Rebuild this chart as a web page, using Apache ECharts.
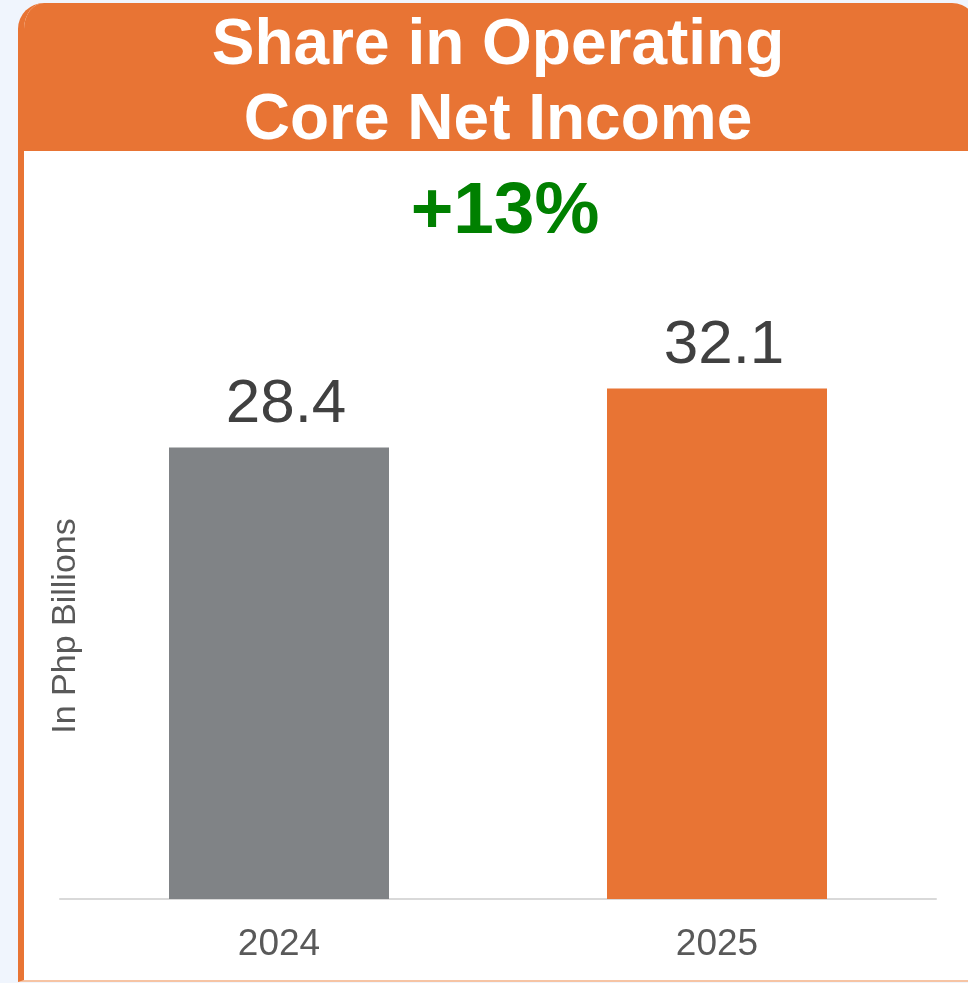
<!DOCTYPE html>
<html>
<head>
<meta charset="utf-8">
<script src="https://cdn.jsdelivr.net/npm/echarts@6/dist/echarts.min.js"></script>
<style>
  html, body { margin: 0; padding: 0; width: 968px; height: 983px; overflow: hidden; background: #f0f5fd; font-family: "Liberation Sans", Arial, sans-serif; }
  #card { position: absolute; left: 18px; top: 3px; width: 954px; height: 977px; background: #fff; border-left: 6px solid #e87434; border-bottom: 2px solid #f6c4a4; border-radius: 26px 26px 0 0; overflow: hidden; }
  #head { position: absolute; left: 0; top: 0; width: 100%; height: 148px; background: #e87434; }
  #chart { position: absolute; left: 0; top: 0; width: 968px; height: 983px; }
</style>
</head>
<body>
<div id="card"><div id="head"></div></div>
<div id="chart"></div>
<script>
const titleLines = ["Share in Operating", "Core Net Income"];
const growthText = "+13%";
const yAxisName = "In Php Billions";
const categories = ["2024", "2025"];
const values = [28.4, 32.1];
const barColors = ["#808386", "#e87434"];

const chart = echarts.init(document.getElementById('chart'), null, { renderer: 'canvas' });
chart.setOption({
  backgroundColor: 'transparent',
  animation: false,
  title: [
    {
      text: titleLines.join('\n'),
      left: 493, top: 4, textAlign: 'center',
      textStyle: { color: '#ffffff', fontSize: 64, fontWeight: 'bold', lineHeight: 75, fontFamily: 'Liberation Sans, Arial, sans-serif' }
    },
    {
      text: growthText,
      left: 500, top: 171, textAlign: 'center',
      textStyle: { color: '#008000', fontSize: 73, fontWeight: 'bold', fontFamily: 'Liberation Sans, Arial, sans-serif' }
    }
  ],
  graphic: [{
    type: 'text',
    x: 66, y: 626,
    rotation: Math.PI / 2,
    style: { text: yAxisName, fill: '#595959', fontSize: 34, fontFamily: 'Liberation Sans, Arial, sans-serif', align: 'center', verticalAlign: 'middle' }
  }],
  grid: { left: 60, right: 32, top: 263, bottom: 84, containLabel: false },
  xAxis: {
    type: 'category',
    data: categories,
    axisLine: { show: true, lineStyle: { color: '#d9d9d9', width: 2 } },
    axisTick: { show: false },
    axisLabel: { color: '#595959', fontSize: 37, margin: 27, fontFamily: 'Liberation Sans, Arial, sans-serif' }
  },
  yAxis: {
    type: 'value', min: 0, max: 40,
    show: false, splitLine: { show: false }
  },
  series: [{
    type: 'bar',
    data: values.map((v, i) => ({ value: v, itemStyle: { color: barColors[i] } })),
    barWidth: 220,
    label: {
      show: true, position: 'top', distance: 12, offset: [7, 0],
      color: '#404040', fontSize: 62, fontFamily: 'Liberation Sans, Arial, sans-serif'
    }
  }]
});
</script>
</body>
</html>
